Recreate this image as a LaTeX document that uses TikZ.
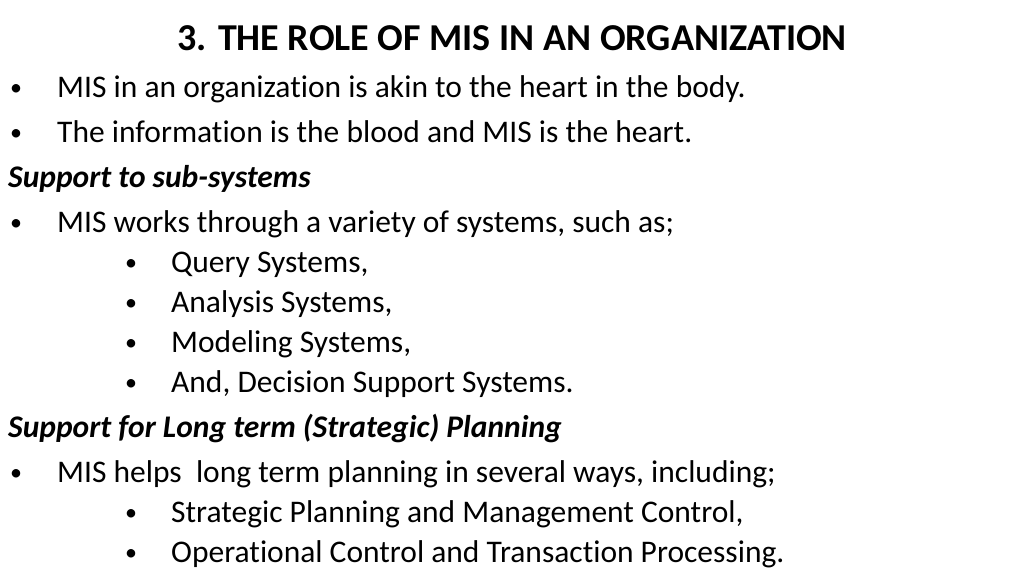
\documentclass[tikz,border=0pt]{standalone}
\usepackage{fontspec}
\setmainfont{Carlito}[RawFeature={-liga;-dlig}]
\begin{document}
\begin{tikzpicture}[x=1pt,y=-1pt,font=\fontsize{31.5}{36}\selectfont]
    \tikzstyle{line}=[anchor=base west,inner sep=0pt]
    \tikzstyle{dot}=[anchor=base,inner sep=0pt,font=\fontsize{24}{30}\selectfont]
    \tikzstyle{head}=[line,font=\fontsize{31.5}{36}\selectfont\bfseries\itshape]
    \useasboundingbox (0,0) rectangle (1024,576);

    \node[anchor=base,inner sep=0pt,font=\fontsize{38}{42}\selectfont\bfseries] (title) at (512,50) {3. THE ROLE OF MIS IN AN ORGANIZATION};
    \node[dot] (b1) at (16,95) {•};
    \node[line] (t1) at (57,97) {MIS in an organization is akin to the heart in the body.};
    \node[dot] (b2) at (16,140) {•};
    \node[line] (t2) at (57,142) {The information is the blood and MIS is the heart.};
    \node[head] (h1) at (8,187) {Support to sub-systems};
    \node[dot] (b3) at (16,230) {•};
    \node[line] (t3) at (57,232) {MIS works through a variety of systems, such as;};
    \node[dot] (b4) at (131,270) {•};
    \node[line] (t4) at (171,272) {Query Systems,};
    \node[dot] (b5) at (131,310) {•};
    \node[line] (t5) at (171,312) {Analysis Systems,};
    \node[dot] (b6) at (131,350) {•};
    \node[line] (t6) at (171,352) {Modeling Systems,};
    \node[dot] (b7) at (131,390) {•};
    \node[line] (t7) at (171,392) {And, Decision Support Systems.};
    \node[head] (h2) at (8,437) {Support for Long term (Strategic) Planning};
    \node[dot] (b8) at (16,480) {•};
    \node[line] (t8) at (57,482) {MIS helps\ \ long term planning in several ways, including;};
    \node[dot] (b9) at (131,520) {•};
    \node[line] (t9) at (171,522) {Strategic Planning and Management Control,};
    \node[dot] (b10) at (131,560) {•};
    \node[line] (t10) at (171,562) {Operational Control and Transaction Processing.};
\end{tikzpicture}
\end{document}
